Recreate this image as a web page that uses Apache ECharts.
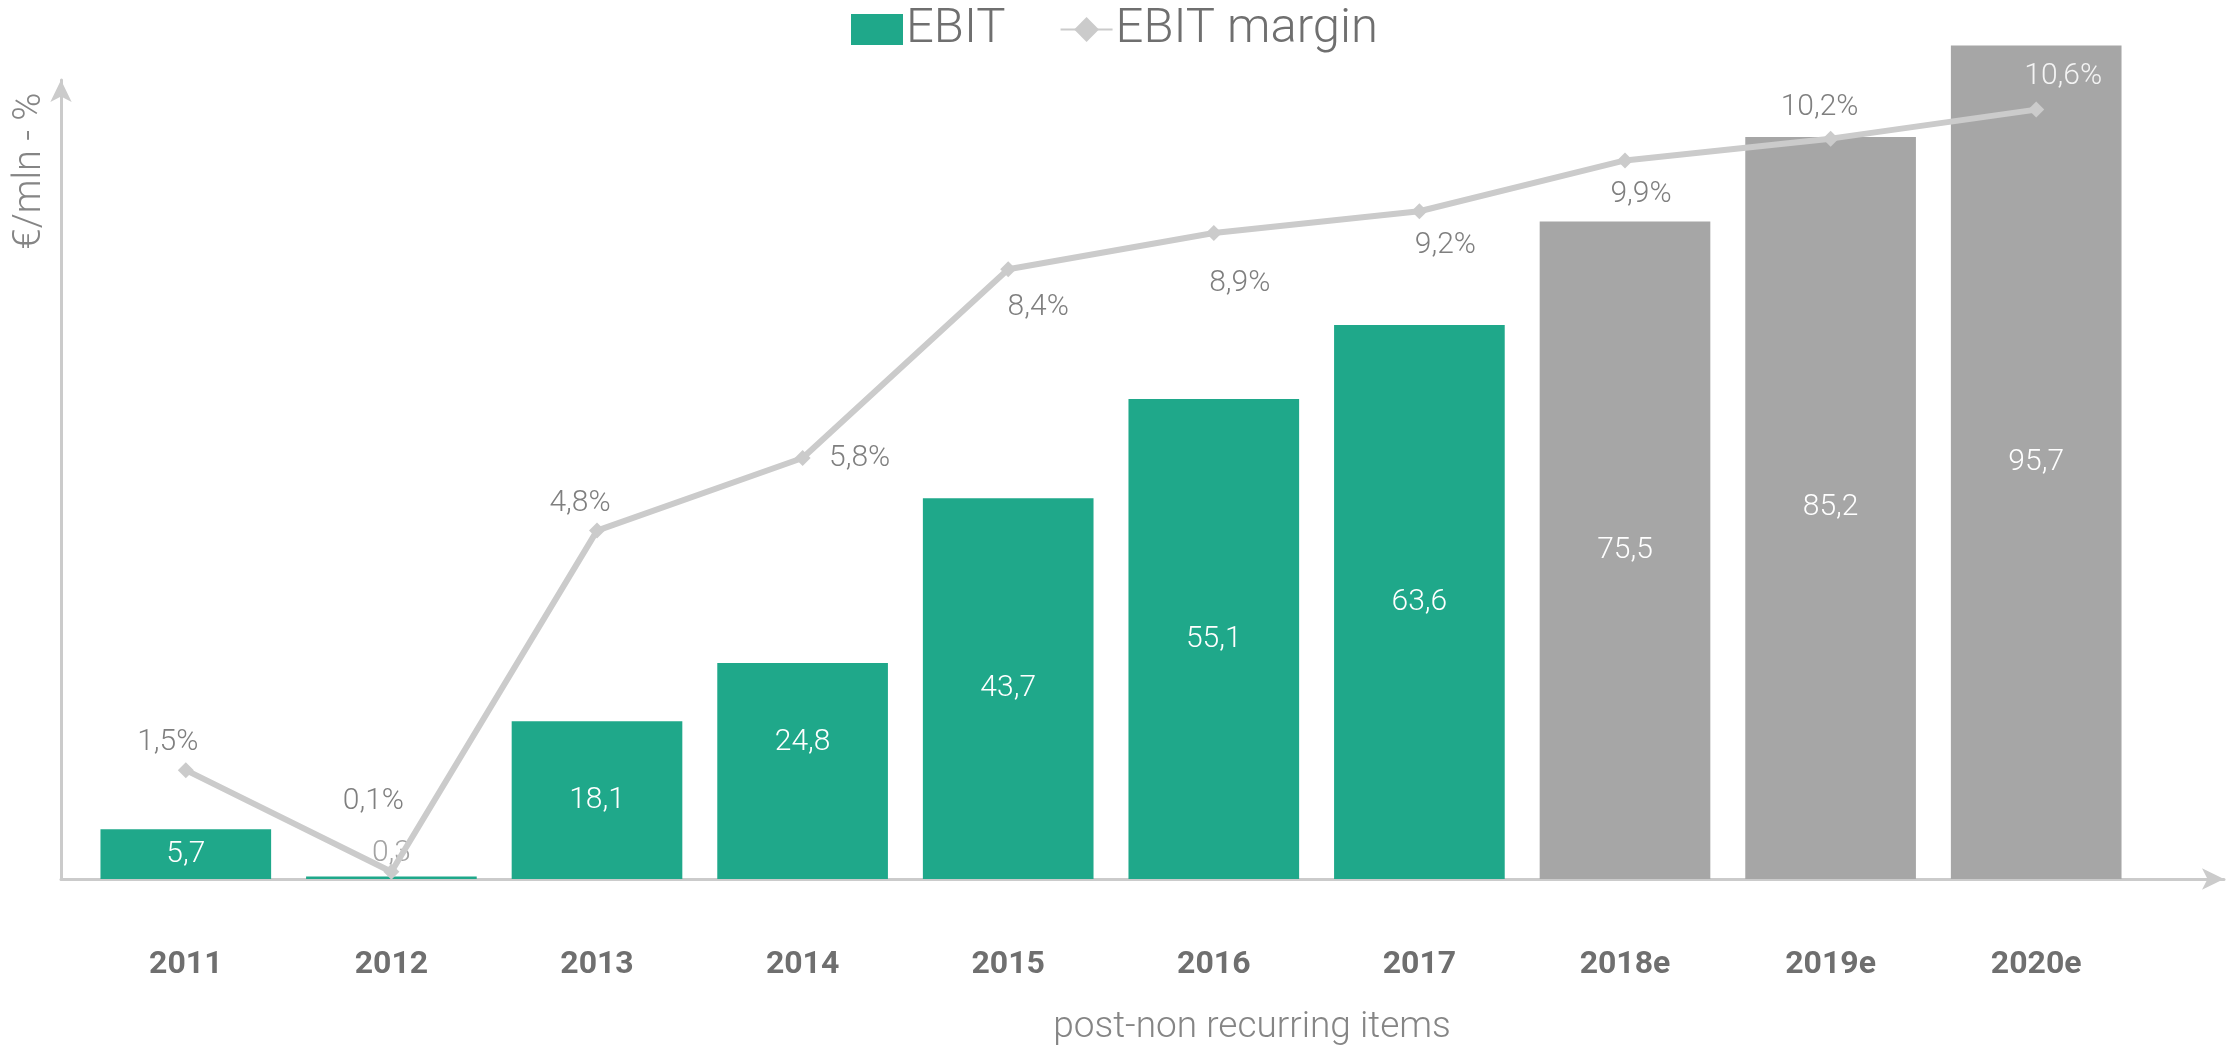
<!DOCTYPE html>
<html>
<head>
<meta charset="utf-8">
<title>EBIT</title>
<script src="https://cdn.jsdelivr.net/npm/echarts@6/dist/echarts.min.js"></script>
<style>
    html, body { margin: 0; padding: 0; background: #fff; }
    #chart { width: 2231px; height: 1050px; }
</style>
</head>
<body>
<div id="chart"></div>
<script type="text/javascript">
    // data
    var years = ['2011', '2012', '2013', '2014', '2015', '2016', '2017', '2018e', '2019e', '2020e'];
    var ebit = [5.7, 0.3, 18.1, 24.8, 43.7, 55.1, 63.6, 75.5, 85.2, 95.7];
    var margin = [1.5, 0.1, 4.8, 5.8, 8.4, 8.9, 9.2, 9.9, 10.2, 10.6];

    // label offsets for the margin line (px from the marker)
    var marginOffsets = [[-18, -28], [-18, -70], [-17, -27], [57, 0], [30, 38], [26, 50], [26, 34], [16, 34], [-11, -31], [27, -33]];

    var green = '#1fa88a', grey = '#a6a6a6', lineGrey = '#cbcbcb', textGrey = '#6f6f6f';

    function fmt(v) { return String(v.toFixed(1)).replace('.', ','); }

    var barData = ebit.map(function (v, i) {
        var item = {
            value: v,
            itemStyle: { color: /e$/.test(years[i]) ? grey : green }
        };
        if (v < 3) {
            item.label = { position: 'top', color: '#a3a3a3', distance: 8 };
        }
        if (i === 3) {
            item.label = { offset: [0, -28] };
        }
        return item;
    });

    var lineData = margin.map(function (v, i) {
        return {
            value: v,
            label: {
                offset: marginOffsets[i],
                color: i === margin.length - 1 ? '#f4f4f4' : '#7f7f7f'
            }
        };
    });

    var myChart = echarts.init(document.getElementById('chart'));
    var option = {
        animation: false,
        textStyle: { fontFamily: 'Roboto' },
        legend: {
            left: 846,
            top: 0,
            itemWidth: 52,
            itemHeight: 31,
            itemGap: 54,
            textStyle: { fontSize: 49, fontWeight: 300, color: textGrey, padding: [0, 0, 0, -2] },
            data: [
                { name: 'EBIT', icon: 'rect', itemStyle: { color: green } },
                { name: 'EBIT margin' }
            ]
        },
        grid: [
            { left: 83, right: 92, top: 8, bottom: 171 },
            { left: 61, right: 7, top: 80, bottom: 171 }
        ],
        xAxis: [
            {
                type: 'category',
                data: years,
                gridIndex: 0,
                axisLine: { show: false },
                axisTick: { show: false },
                axisLabel: { margin: 70, fontSize: 32, fontWeight: 'bold', color: textGrey }
            },
            {
                type: 'value',
                gridIndex: 1,
                axisLine: { show: true, symbol: ['none', 'arrow'], symbolSize: [16, 22], lineStyle: { color: lineGrey, width: 3 } },
                axisTick: { show: false },
                axisLabel: { show: false },
                splitLine: { show: false }
            }
        ],
        yAxis: [
            { type: 'value', gridIndex: 0, min: 0, max: 100, show: false },
            { type: 'value', gridIndex: 0, min: 0, max: 12, show: false },
            {
                type: 'value',
                gridIndex: 1,
                axisLine: { show: true, symbol: ['none', 'arrow'], symbolSize: [16, 22], lineStyle: { color: lineGrey, width: 3 } },
                axisTick: { show: false },
                axisLabel: { show: false },
                splitLine: { show: false }
            }
        ],
        graphic: [
            {
                type: 'text',
                x: 30, y: 171, rotation: Math.PI / 2,
                style: { text: '€/mln - %', font: '300 38px Roboto', fill: '#858585', align: 'center', verticalAlign: 'middle' }
            },
            {
                type: 'text',
                x: 1252, y: 1028,
                style: { text: 'post-non recurring items', font: '300 37px Roboto', fill: '#858585', align: 'center', verticalAlign: 'middle' }
            }
        ],
        series: [
            {
                name: 'EBIT',
                type: 'bar',
                xAxisIndex: 0,
                yAxisIndex: 0,
                barCategoryGap: '17%',
                data: barData,
                label: {
                    show: true,
                    position: 'inside',
                    color: '#fff',
                    fontSize: 30,
                    fontWeight: 300,
                    formatter: function (p) { return fmt(p.value); }
                },
                z: 2
            },
            {
                name: 'EBIT margin',
                type: 'line',
                xAxisIndex: 0,
                yAxisIndex: 1,
                data: lineData,
                symbol: 'diamond',
                symbolSize: 16,
                lineStyle: { color: lineGrey, width: 6 },
                itemStyle: { color: lineGrey },
                label: {
                    show: true,
                    position: 'inside',
                    fontSize: 30,
                    fontWeight: 300,
                    formatter: function (p) { return fmt(p.value) + '%'; }
                },
                z: 3
            }
        ]
    };
    myChart.setOption(option, true);
</script>
</body>
</html>
